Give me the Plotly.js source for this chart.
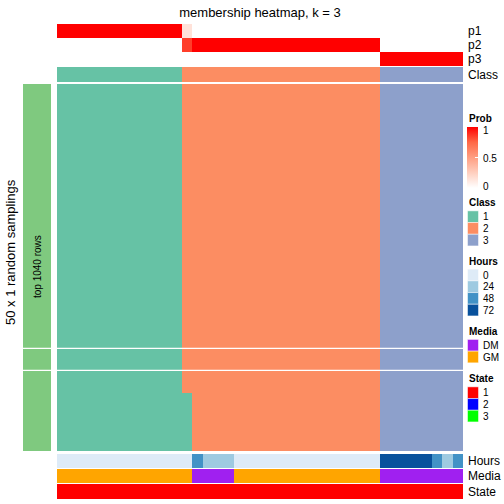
<!DOCTYPE html>
<html>
<head>
<meta charset="utf-8">
<script src="https://cdn.plot.ly/plotly-3.0.1.min.js"></script>
<style>html,body{margin:0;padding:0;background:#fff;}#chart{width:504px;height:504px;}</style>
</head>
<body>
<div id="chart"></div>
<script>
// ---------- data ----------
const columns = [1,2,3,4,5,6,7,8,9,10,11,12,13,14,15,16,17,18,19,20,21,22,23,24,25,26,27,28,29,30,31,32,33,34,35,36,37,38,39];
const p1 = [1,1,1,1,1,1,1,1,1,1,1,1, 0.15, 0,0,0,0,0,0,0,0,0,0,0,0,0,0,0,0,0,0, 0,0,0,0,0,0,0,0];
const p2 = [0,0,0,0,0,0,0,0,0,0,0,0, 0.85, 1,1,1,1,1,1,1,1,1,1,1,1,1,1,1,1,1,1, 0,0,0,0,0,0,0,0];
const p3 = [0,0,0,0,0,0,0,0,0,0,0,0, 0, 0,0,0,0,0,0,0,0,0,0,0,0,0,0,0,0,0,0, 1,1,1,1,1,1,1,1];
const classRow = [1,1,1,1,1,1,1,1,1,1,1,1, 2, 2,2,2,2,2,2,2,2,2,2,2,2,2,2,2,2,2,2, 3,3,3,3,3,3,3,3];
const hours = [0,0,0,0,0,0,0,0,0,0,0,0,0, 48, 24,24,24, 0,0,0,0,0,0,0,0,0,0,0,0,0,0, 72,72,72,72,72, 48, 24, 48];
const media = ['GM','GM','GM','GM','GM','GM','GM','GM','GM','GM','GM','GM','GM', 'DM','DM','DM','DM', 'GM','GM','GM','GM','GM','GM','GM','GM','GM','GM','GM','GM','GM','GM', 'DM','DM','DM','DM','DM','DM','DM','DM'];
const state = [1,1,1,1,1,1,1,1,1,1,1,1,1,1,1,1,1,1,1,1,1,1,1,1,1,1,1,1,1,1,1,1,1,1,1,1,1,1,1];
// 50 random samplings (class per column), grouped 12/13 | 19/18 | 8
const samplings = [
"111111111111 2222222222222222222 33333333",
"111111111111 2222222222222222222 33333333",
"111111111111 2222222222222222222 33333333",
"111111111111 2222222222222222222 33333333",
"111111111111 2222222222222222222 33333333",
"111111111111 2222222222222222222 33333333",
"111111111111 2222222222222222222 33333333",
"111111111111 2222222222222222222 33333333",
"111111111111 2222222222222222222 33333333",
"111111111111 2222222222222222222 33333333",
"111111111111 2222222222222222222 33333333",
"111111111111 2222222222222222222 33333333",
"111111111111 2222222222222222222 33333333",
"111111111111 2222222222222222222 33333333",
"111111111111 2222222222222222222 33333333",
"111111111111 2222222222222222222 33333333",
"111111111111 2222222222222222222 33333333",
"111111111111 2222222222222222222 33333333",
"111111111111 2222222222222222222 33333333",
"111111111111 2222222222222222222 33333333",
"111111111111 2222222222222222222 33333333",
"111111111111 2222222222222222222 33333333",
"111111111111 2222222222222222222 33333333",
"111111111111 2222222222222222222 33333333",
"111111111111 2222222222222222222 33333333",
"111111111111 2222222222222222222 33333333",
"111111111111 2222222222222222222 33333333",
"111111111111 2222222222222222222 33333333",
"111111111111 2222222222222222222 33333333",
"111111111111 2222222222222222222 33333333",
"111111111111 2222222222222222222 33333333",
"111111111111 2222222222222222222 33333333",
"111111111111 2222222222222222222 33333333",
"111111111111 2222222222222222222 33333333",
"111111111111 2222222222222222222 33333333",
"111111111111 2222222222222222222 33333333",
"111111111111 2222222222222222222 33333333",
"111111111111 2222222222222222222 33333333",
"111111111111 2222222222222222222 33333333",
"111111111111 2222222222222222222 33333333",
"111111111111 2222222222222222222 33333333",
"111111111111 2222222222222222222 33333333",
"1111111111111 222222222222222222 33333333",
"1111111111111 222222222222222222 33333333",
"1111111111111 222222222222222222 33333333",
"1111111111111 222222222222222222 33333333",
"1111111111111 222222222222222222 33333333",
"1111111111111 222222222222222222 33333333",
"1111111111111 222222222222222222 33333333",
"1111111111111 222222222222222222 33333333"
];
const sliceSizes = [36, 3, 11];
const classLevels = [1,2,3];
const classColors = ['#66C2A5','#FC8D62','#8DA0CB'];
const hourLevels = [0,24,48,72];
const hourColors = ['#DEEBF7','#9ECAE1','#4292C6','#08519C'];
const mediaLevels = ['DM','GM'];
const mediaColors = ['#A020F0','#FFA500'];
const stateLevels = [1,2,3];
const stateColors = ['#FF0000','#0000FF','#00FF00'];
const rowAnnoColor = '#7FC97F';
const probScale = [[0,'#FFFFFF'],[0.25,'rgb(255,207,191)'],[0.5,'rgb(255,158,129)'],[0.75,'rgb(255,104,70)'],[1,'#FF0000']];

// ---------- helpers ----------
const FONT = 'Liberation Sans, Arial, sans-serif';
const py = v => 1 - v/504;
const pxx = v => v/504;
function catScale(colors){
  const n = colors.length;
  return colors.map((c,i)=>[i/(n-1), c]);
}
function idx(levels, arr){ return arr.map(v => levels.indexOf(v)); }

const sampleMatrix = samplings.map(s => s.replace(/ /g,'').split('').map(ch => classLevels.indexOf(+ch)));

const traces = [];
// probability rows
traces.push({type:'heatmap', x:columns, y:[1,2,3], z:[p1,p2,p3], xaxis:'x', yaxis:'y',
  colorscale:probScale, zmin:0, zmax:1, hoverinfo:'skip', showscale:true,
  colorbar:{x:pxx(467), xanchor:'left', xpad:0, y:py(127), yanchor:'top', ypad:0,
    thickness:11, thicknessmode:'pixels', len:61, lenmode:'pixels', outlinewidth:0,
    tickvals:[0,0.5,1], ticks:'inside', ticklen:3, tickcolor:'#FFFFFF', showticklabels:false}});
// class row
traces.push({type:'heatmap', x:columns, y:[1], z:[idx(classLevels,classRow)], xaxis:'x', yaxis:'y2',
  colorscale:catScale(classColors), zmin:0, zmax:2, showscale:false, hoverinfo:'skip'});
// slices
let start = 0;
const sliceAxes = ['y3','y4','y5'];
sliceSizes.forEach((n,k)=>{
  const rows = [], z = [], bar = [];
  for(let i=start;i<start+n;i++){ rows.push(i+1); z.push(sampleMatrix[i]); bar.push([0]); }
  traces.push({type:'heatmap', x:columns, y:rows, z:z, xaxis:'x', yaxis:sliceAxes[k],
    colorscale:catScale(classColors), zmin:0, zmax:2, showscale:false, hoverinfo:'skip'});
  traces.push({type:'heatmap', x:[1], y:rows, z:bar, xaxis:'x2', yaxis:sliceAxes[k],
    colorscale:[[0,rowAnnoColor],[1,rowAnnoColor]], zmin:0, zmax:1, showscale:false, hoverinfo:'skip'});
  start += n;
});
// bottom annotations
traces.push({type:'heatmap', x:columns, y:[1], z:[idx(hourLevels,hours)], xaxis:'x', yaxis:'y6',
  colorscale:catScale(hourColors), zmin:0, zmax:3, showscale:false, hoverinfo:'skip'});
traces.push({type:'heatmap', x:columns, y:[1], z:[idx(mediaLevels,media)], xaxis:'x', yaxis:'y7',
  colorscale:catScale(mediaColors), zmin:0, zmax:1, showscale:false, hoverinfo:'skip'});
traces.push({type:'heatmap', x:columns, y:[1], z:[idx(stateLevels,state)], xaxis:'x', yaxis:'y8',
  colorscale:catScale(stateColors), zmin:0, zmax:2, showscale:false, hoverinfo:'skip'});

const hid = {visible:false, showgrid:false, zeroline:false, fixedrange:true};
function yax(top, bottom, range){ return Object.assign({}, hid, {domain:[py(bottom), py(top)], range:range, anchor:'x'}); }

const annotations = [];
function txt(text, x, y, opts){
  annotations.push(Object.assign({text:text, x:pxx(x), y:py(y), xref:'paper', yref:'paper',
    showarrow:false, xanchor:'left', yanchor:'middle', font:{family:FONT, size:12, color:'#000'}}, opts||{}));
}
// right-side row labels
txt('p1', 466, 31); txt('p2', 466, 45); txt('p3', 466, 59); txt('Class', 466, 74.5);
txt('Hours', 466, 461); txt('Media', 466, 476); txt('State', 466, 491.5);
// left labels
txt('50 x 1 random samplings', 10, 252, {xanchor:'center', textangle:-90, font:{family:FONT, size:13, color:'#000'}});
txt('top 1040 rows', 37, 267, {xanchor:'center', textangle:-90, font:{family:FONT, size:10, color:'#000'}});
// legends
const LF = {family:FONT, size:10, color:'#000'};
txt('<b>Prob</b>', 467, 118, {font:LF});
txt('1', 481, 131, {font:LF}); txt('0.5', 481, 158, {font:LF}); txt('0', 481, 186, {font:LF});
const shapes = [];
function legendBlock(title, titleY, labels, colors, firstY){
  txt('<b>'+title+'</b>', 467, titleY, {font:LF});
  labels.forEach((l,i)=>{
    const cy = firstY + i*11.7;
    shapes.push({type:'rect', xref:'paper', yref:'paper', x0:pxx(467.5), x1:pxx(478.5), y0:py(cy+5.85), y1:py(cy-5.85),
      fillcolor:colors[i], line:{color:'#FFFFFF', width:0.5}});
    txt(String(l), 481, cy, {font:LF});
  });
}
legendBlock('Class', 202.5, classLevels, classColors, 216.7);
legendBlock('Hours', 261.5, hourLevels, hourColors, 275);
legendBlock('Media', 331, mediaLevels, mediaColors, 345.3);
legendBlock('State', 378.5, stateLevels, stateColors, 392.7);

const layout = {
  width:504, height:504, margin:{l:0,r:0,t:0,b:0}, paper_bgcolor:'#fff', plot_bgcolor:'#fff',
  showlegend:false, font:{family:FONT},
  title:{text:'membership heatmap, k = 3', x:pxx(260), xanchor:'center', y:py(12), yanchor:'middle', font:{family:FONT, size:13, color:'#000'}},
  xaxis:Object.assign({}, hid, {domain:[pxx(57), pxx(463)], range:[0.5,39.5], anchor:'y'}),
  xaxis2:Object.assign({}, hid, {domain:[pxx(23), pxx(51)], range:[0.5,1.5], anchor:'y3'}),
  yaxis:yax(24, 66, [3.5,0.5]),
  yaxis2:yax(67, 82, [1.5,0.5]),
  yaxis3:yax(84, 347.7, [36.5,0.5]),
  yaxis4:yax(349, 369.7, [39.5,36.5]),
  yaxis5:yax(371, 451, [50.5,39.5]),
  yaxis6:yax(454, 468, [1.5,0.5]),
  yaxis7:yax(469, 483, [1.5,0.5]),
  yaxis8:yax(484, 499, [1.5,0.5]),
  annotations:annotations, shapes:shapes
};
Plotly.newPlot('chart', traces, layout, {staticPlot:true, displayModeBar:false});
</script>
</body>
</html>
